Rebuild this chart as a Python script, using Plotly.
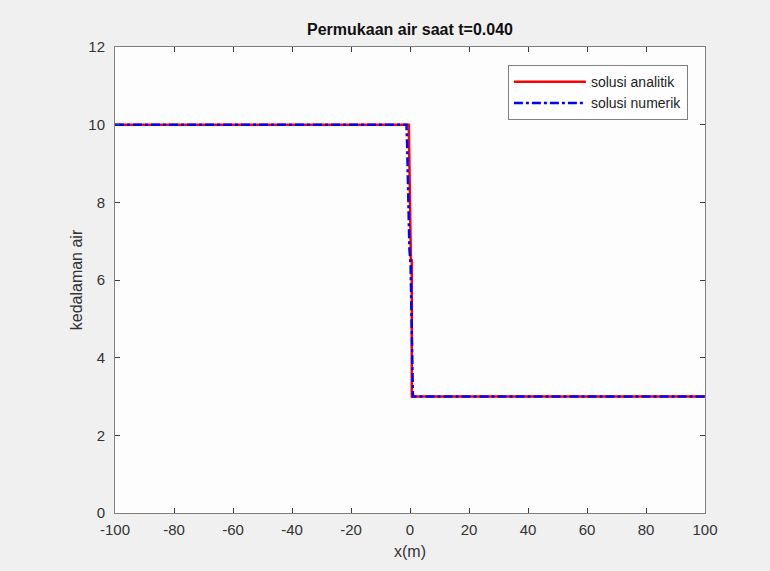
import plotly.graph_objects as go

x_analitik = [-100, -0.4, 0.3, 0.6, 0.6, 100]
h_analitik = [10, 10, 6.5, 6.5, 3, 3]

x_numerik = [-100, -1.2, -1.0, -0.6, -0.2, 0.2, 0.6, 1.0, 100]
h_numerik = [10, 10, 9.6, 8.2, 6.8, 6.4, 5.0, 3.0, 3.0]

x_ticks = [-100, -80, -60, -40, -20, 0, 20, 40, 60, 80, 100]
x_ticktext = ["-100", "-80", "-60", "-40", "-20", "0", "20", "40", "60", "80", "100"]
y_ticks = [0, 2, 4, 6, 8, 10, 12]

fig = go.Figure()
fig.add_trace(go.Scatter(x=x_analitik, y=h_analitik, mode="lines",
                         name="solusi analitik",
                         line=dict(color="#ff0000", width=2.5)))
fig.add_trace(go.Scatter(x=x_numerik, y=h_numerik, mode="lines",
                         name="solusi numerik",
                         line=dict(color="#0000ff", width=2.5, dash="dashdot")))

axis_common = dict(showgrid=False, zeroline=False, showline=True, mirror="ticks",
                   linecolor="#808080", linewidth=1, ticks="inside", ticklen=5,
                   tickcolor="#404040", tickfont=dict(size=15, color="#333333"))

fig.update_layout(
    width=770, height=571,
    paper_bgcolor="#f0f0f0", plot_bgcolor="#fdfdfd",
    margin=dict(l=115, r=65, t=47, b=58),
    font=dict(family="Liberation Sans, Arial, sans-serif", color="#222222"),
    title=dict(text="<b>Permukaan air saat t=0.040</b>", x=(115 + 705) / 2 / 770,
               xanchor="center", y=1 - 29 / 571, yanchor="middle",
               font=dict(size=16, color="#111111")),
    xaxis=dict(range=[-100, 100], tickvals=x_ticks, ticktext=x_ticktext,
               ticklabelstandoff=3,
               title=dict(text="x(m)", font=dict(size=16, color="#333333"), standoff=8),
               **axis_common),
    yaxis=dict(range=[0, 12], tickvals=y_ticks, ticklabelstandoff=6,
               title=dict(text="kedalaman air", font=dict(size=16, color="#333333"), standoff=1),
               **axis_common),
    legend=dict(x=0.971, y=0.961, xanchor="right", yanchor="top",
                bgcolor="#ffffff", bordercolor="#808080", borderwidth=1,
                font=dict(size=14, color="#222222"), tracegroupgap=0,
                itemwidth=72),
    showlegend=True,
)

fig.write_html("out.html", config={"displayModeBar": False},
               post_script="document.body.style.margin='0';document.body.style.background='#f0f0f0';")
